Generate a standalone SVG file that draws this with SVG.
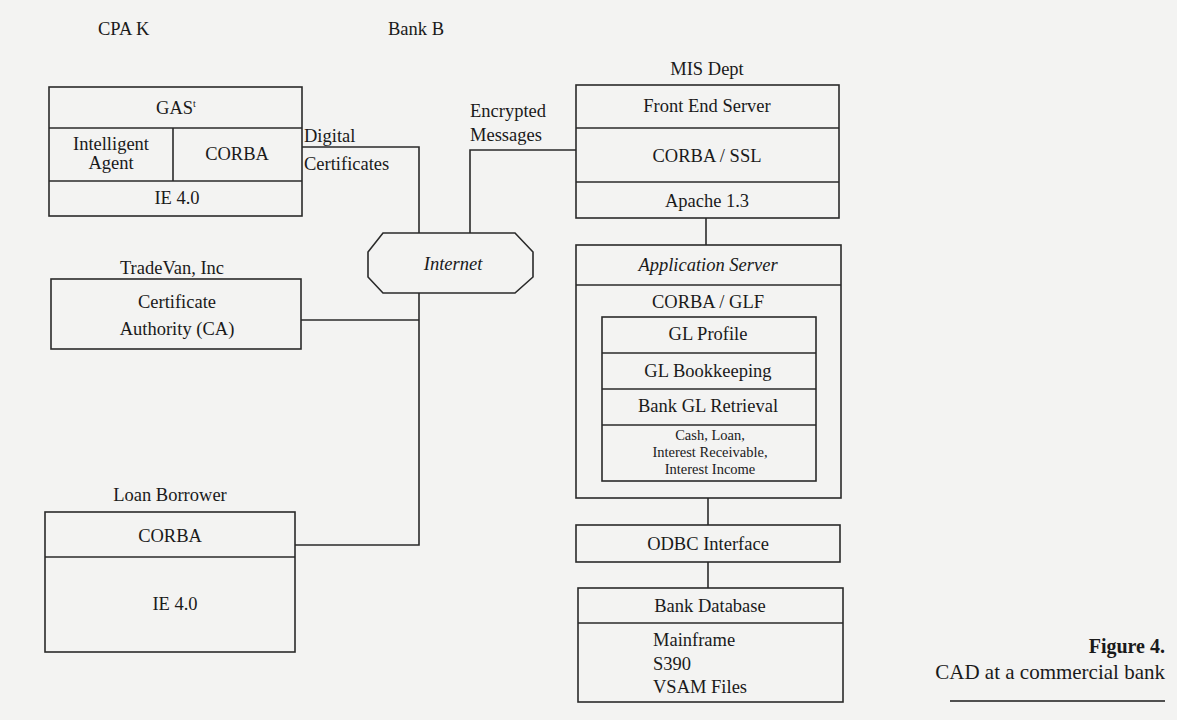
<svg xmlns="http://www.w3.org/2000/svg" width="1177" height="720" viewBox="0 0 1177 720">
<style>
.t{font-family:"Liberation Serif","Times New Roman",serif;font-size:18.5px;fill:#1a1a1a;text-anchor:middle}
.s{font-size:14.5px}
.l{text-anchor:start}
.i{font-style:italic}
.b{fill:none;stroke:#2a2a2a;stroke-width:1.6}
.c{fill:none;stroke:#2a2a2a;stroke-width:1.6}
</style>
<rect width="1177" height="720" fill="#f3f3f2"/>
<g id="headers">
<text class="t l" x="98" y="35">CPA  K</text>
<text class="t l" x="388" y="35">Bank  B</text>
</g>
<g id="connectors">
<polyline class="c" points="302,147 419,147 419,233"/>
<polyline class="c" points="470,233 470,150 576,150"/>
<polyline class="c" points="301,320 419,320"/>
<polyline class="c" points="419,293 419,545 295,545"/>
<line class="c" x1="706" y1="218" x2="706" y2="245"/>
<line class="c" x1="708" y1="498" x2="708" y2="525"/>
<line class="c" x1="708" y1="562" x2="708" y2="588"/>
</g>
<g id="gas">
<rect class="b" x="49" y="87" width="253" height="129"/>
<line class="b" x1="49" y1="128" x2="302" y2="128"/>
<line class="b" x1="49" y1="181" x2="302" y2="181"/>
<line class="b" x1="173" y1="128" x2="173" y2="181"/>
<text class="t" x="176" y="114">GAS<tspan font-size="10" dy="-7">t</tspan></text>
<text class="t" x="111" y="150">Intelligent</text>
<text class="t" x="111" y="169">Agent</text>
<text class="t" x="237" y="160">CORBA</text>
<text class="t" x="177" y="204">IE 4.0</text>
</g>
<g id="digital-certificates">
<text class="t l" x="304" y="142">Digital</text>
<text class="t l" x="304" y="170">Certificates</text>
</g>
<g id="encrypted-messages">
<text class="t l" x="470" y="117">Encrypted</text>
<text class="t l" x="470" y="141">Messages</text>
</g>
<g id="internet">
<polygon class="b" fill="#f3f3f2" points="383,233 515,233 533,252 533,277 515,293 383,293 368,277 368,252"/>
<text class="t i" x="453" y="270">Internet</text>
</g>
<g id="tradevan">
<text class="t" x="172" y="274" font-size="17">TradeVan, Inc</text>
<rect class="b" x="51" y="279" width="250" height="70"/>
<text class="t" x="177" y="308">Certificate</text>
<text class="t" x="177" y="335">Authority (CA)</text>
</g>
<g id="loan-borrower">
<text class="t" x="170" y="501">Loan Borrower</text>
<rect class="b" x="45" y="512" width="250" height="140"/>
<line class="b" x1="45" y1="557" x2="295" y2="557"/>
<text class="t" x="170" y="542">CORBA</text>
<text class="t" x="175" y="610">IE 4.0</text>
</g>
<g id="front-end-server">
<text class="t" x="707" y="75">MIS Dept</text>
<rect class="b" x="576" y="85" width="263" height="133"/>
<line class="b" x1="576" y1="128" x2="839" y2="128"/>
<line class="b" x1="576" y1="182" x2="839" y2="182"/>
<text class="t" x="707" y="112">Front End Server</text>
<text class="t" x="707" y="162">CORBA / SSL</text>
<text class="t" x="707" y="207">Apache 1.3</text>
</g>
<g id="application-server">
<rect class="b" x="576" y="245" width="265" height="253"/>
<line class="b" x1="576" y1="285" x2="841" y2="285"/>
<text class="t i" x="708" y="271">Application Server</text>
<text class="t" x="708" y="308">CORBA / GLF</text>
<rect class="b" x="602" y="317" width="214" height="164"/>
<line class="b" x1="602" y1="353" x2="816" y2="353"/>
<line class="b" x1="602" y1="389" x2="816" y2="389"/>
<line class="b" x1="602" y1="425" x2="816" y2="425"/>
<text class="t" x="708" y="340">GL Profile</text>
<text class="t" x="708" y="377">GL Bookkeeping</text>
<text class="t" x="708" y="412">Bank GL Retrieval</text>
<text class="t s" x="710" y="440">Cash, Loan,</text>
<text class="t s" x="710" y="457">Interest Receivable,</text>
<text class="t s" x="710" y="474">Interest Income</text>
</g>
<g id="odbc">
<rect class="b" x="576" y="525" width="264" height="37"/>
<text class="t" x="708" y="550">ODBC Interface</text>
</g>
<g id="bank-database">
<rect class="b" x="578" y="588" width="265" height="114"/>
<line class="b" x1="578" y1="623" x2="843" y2="623"/>
<text class="t" x="710" y="612">Bank Database</text>
<text class="t l" x="653" y="646">Mainframe</text>
<text class="t l" x="653" y="670">S390</text>
<text class="t l" x="653" y="693">VSAM Files</text>
</g>
<g id="caption">
<text x="1165" y="653" font-family="Liberation Serif, serif" font-size="20" font-weight="bold" fill="#1a1a1a" text-anchor="end">Figure 4.</text>
<text x="1165" y="679" font-family="Liberation Serif, serif" font-size="21" fill="#1a1a1a" text-anchor="end">CAD at a commercial bank</text>
<line x1="950" y1="701" x2="1165" y2="701" stroke="#1a1a1a" stroke-width="1.5"/>
</g>
</svg>
